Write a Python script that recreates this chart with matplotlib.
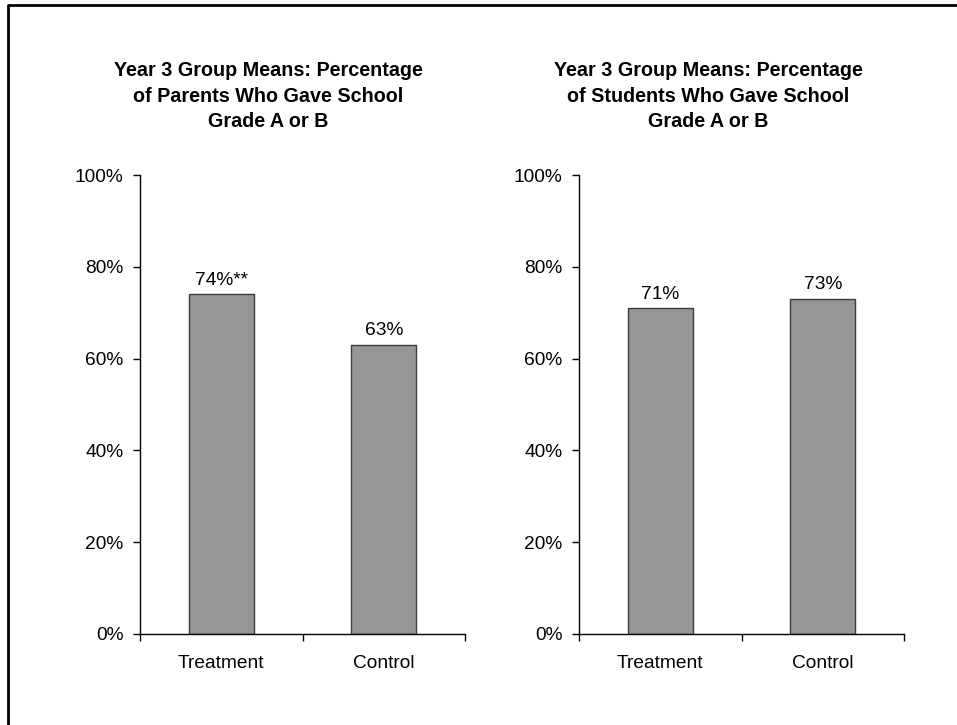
import matplotlib
matplotlib.use("Agg")
import matplotlib.pyplot as plt
from matplotlib.lines import Line2D
from matplotlib.ticker import FixedLocator, FuncFormatter

plt.rcParams['font.family'] = ['Liberation Sans', 'DejaVu Sans']

# data
groups = ['Treatment', 'Control']
parents = [74, 63]
students = [71, 73]
parent_labels = ['74%**', '63%']
student_labels = ['71%', '73%']
titles = ['Year 3 Group Means: Percentage\nof Parents Who Gave School\nGrade A or B',
          'Year 3 Group Means: Percentage\nof Students Who Gave School\nGrade A or B']

W, H = 957, 725
fig = plt.figure(figsize=(W / 100, H / 100), dpi=100)
fig.patch.set_facecolor('white')

# frame: only top and left show in the picture
fig.add_artist(Line2D([8 / W, 8 / W, 1.0], [0.0, 1 - 5 / H, 1 - 5 / H],
                      transform=fig.transFigure, color='black', lw=2))

def panel(left, values, labels, title, title_x):
    ax = fig.add_axes([left / W, (H - 634) / H, 325 / W, 459 / H])
    x = range(len(groups))
    bars = ax.bar(x, values, width=0.4, color='#969696', edgecolor='#3c3c3c', linewidth=1)
    for b, lab in zip(bars, labels):
        ax.annotate(lab, (b.get_x() + b.get_width() / 2, b.get_height()),
                    xytext=(0, 4), textcoords='offset points',
                    ha='center', va='bottom', fontsize=13.8)
    ax.set_xlim(-0.5, len(groups) - 0.5)
    ax.set_ylim(0, 100)
    ax.set_yticks([0, 20, 40, 60, 80, 100])
    ax.yaxis.set_major_formatter(FuncFormatter(lambda v, p: '%d%%' % v))
    ax.set_xticks(list(x))
    ax.set_xticklabels(groups)
    ax.xaxis.set_minor_locator(FixedLocator([-0.5, 0.5, 1.5]))
    ax.tick_params(axis='x', which='major', length=0, pad=15, labelsize=13.8)
    ax.tick_params(axis='x', which='minor', length=5, width=1, direction='out')
    ax.tick_params(axis='y', length=5, width=1, direction='out', pad=7, labelsize=13.8)
    for s in ['top', 'right']:
        ax.spines[s].set_visible(False)
    for s in ['left', 'bottom']:
        ax.spines[s].set_linewidth(1)
        ax.spines[s].set_color('black')
    fig.text(title_x / W, (H - 96) / H, title, ha='center', va='center',
             fontsize=14.2, fontweight='bold', linespacing=1.45)
    return ax

panel(140, parents, parent_labels, titles[0], 268)
panel(579, students, student_labels, titles[1], 708)

fig.savefig('out.png', dpi=100)
